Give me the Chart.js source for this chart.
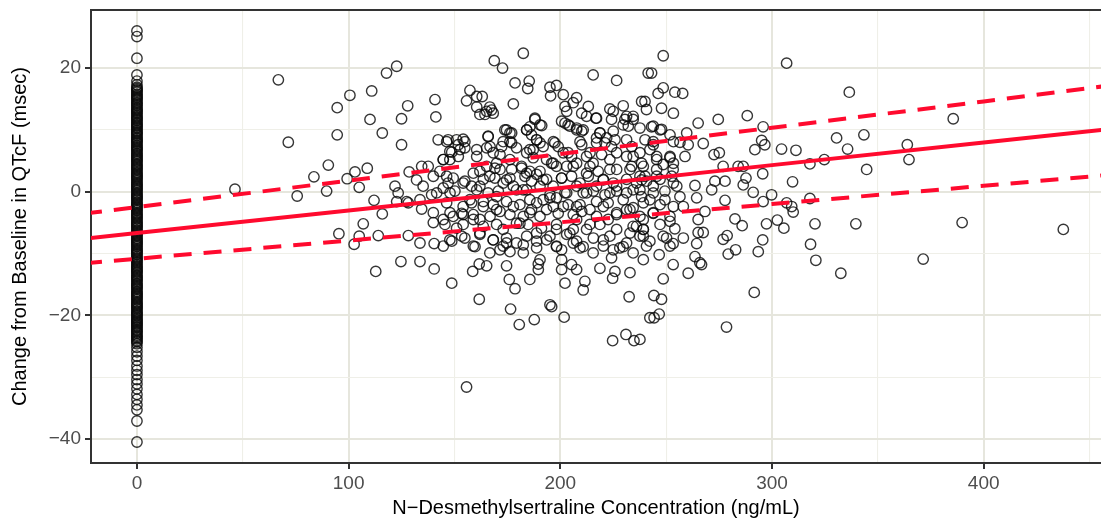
<!DOCTYPE html>
<html>
<head>
<meta charset="utf-8">
<script src="https://cdn.jsdelivr.net/npm/chart.js@4/dist/chart.umd.min.js"></script>
<style>
  body { margin: 0; background: #fff; overflow: hidden; }
  canvas { display: block; }
</style>
</head>
<body>
<canvas id="myChart" width="1101" height="523"></canvas>
<script>
// ticks
const xTicks = [0, 50, 100, 150, 200, 250, 300, 350, 400, 450];
const xLabels = [0, 100, 200, 300, 400];
const yTicks = [-40, -30, -20, -10, 0, 10, 20];
const yLabels = [-40, -20, 0, 20];

// placebo / below-LLOQ group, all at concentration 0
const zeroQtc = [
  26, 25.1, 21.6, 18.9, 17.9, 17.3, 16.9, 16.5, 16.1, 15.6, 15.2, 14.8, 14.3, 13.9, 13.4,
  13.0, 12.6, 12.1, 11.7, 11.2, 10.8, 10.4, 9.9, 9.5, 9.1, 8.6, 8.2, 7.8, 7.3, 6.9,
  6.5, 6.0, 5.6, 5.2, 4.8, 4.3, 3.9, 3.5, 3.0, 2.6, 2.2, 1.8, 1.3, 0.9, 0.5,
  0.1, -0.4, -0.8, -1.2, -1.7, -2.1, -2.5, -2.9, -3.4, -3.8, -4.2, -4.7, -5.1, -5.5, -5.9,
  -6.4, -6.8, -7.2, -7.7, -8.1, -8.5, -8.9, -9.4, -9.8, -10.2, -10.7, -11.1, -11.5, -12.0, -12.4,
  -12.8, -13.2, -13.7, -14.1, -14.5, -15.0, -15.4, -15.8, -16.3, -16.7, -17.1, -17.5, -18.0, -18.4, -18.8,
  -19.3, -19.7, -20.1, -20.6, -21.0, -21.4, -21.8, -22.3, -22.7, -23.2, -23.6, -24.1, -24.6, -25.2, -25.9,
  -26.6, -27.3, -28.2, -28.9, -29.6, -30.4, -31.1, -31.9, -32.8, -33.6, -34.5, -35.3, -37.1, -40.5
];
const zeroQtcMore = [
  16.7, 16.3, 15.8, 15.4, 15.0, 14.5, 14.1, 13.6, 13.2, 12.8, 12.3, 11.9, 11.5, 11.0, 10.6,
  10.2, 9.7, 9.3, 8.8, 8.4, 8.0, 7.5, 7.1, 6.7, 6.2, 5.8, 5.4, 5.0, 4.5, 4.1,
  3.7, 3.2, 2.8, 2.4, 2.0, 1.5, 1.1, 0.7, 0.3, -0.2, -0.6, -1.0, -1.4, -1.9, -2.3,
  -2.7, -3.1, -3.6, -4.0, -4.4, -4.9, -5.3, -5.7, -6.2, -6.6, -7.0, -7.5, -7.9, -8.3, -8.7,
  -9.2, -9.6, -10.0, -10.5, -10.9, -11.3, -11.8, -12.2, -12.6, -13.0, -13.5, -13.9, -14.3, -14.8, -15.2,
  -15.6, -16.1, -16.5, -16.9, -17.3, -17.8, -18.2, -18.6, -19.0, -19.5, -19.9, -20.4, -20.8, -21.2, -21.6,
  -22.0, -22.5, -22.9, -23.4, -23.8, -24.3
];

// concentration (ng/mL) and matching QTcF change (msec)
const conc = [
  66.8, 71.5, 46.3, 75.7, 83.6, 90.4, 89.6, 94.6, 94.6, 100.6,
  110.9, 117.9, 122.7, 110.1, 115.9, 125, 127.9, 125, 140.8, 141.2,
  142.3, 103, 108.8, 99.3, 105, 112, 121.9, 123.4, 128.6, 132.1,
  134.5, 137.6, 140, 135.2, 127.4, 133.7, 139.2, 122.7, 115.9, 106.9,
  95.4, 105, 102.6, 114, 128.2, 133.7, 140.4, 124.7, 133.7, 140.4,
  112.8, 134.5, 140, 140, 128.2, 155.7,
  182.5, 168.8, 172.7, 215.5, 226.6, 241.5, 178.6, 185.3, 184.6, 157.3,
  155.7, 160.5, 163.1, 160.5, 166.7, 167.5, 164.4, 177.8, 195.1, 198.2,
  195.4, 201.4, 202.2, 207.7, 206.1, 213.2, 210.1, 216.8, 223.4, 229.7,
  224.2, 230.5, 234.4, 238.4, 232.1, 188, 185.6, 191.2, 184.1, 173.8,
  176.2, 202.2, 204.5, 207.7, 210.1, 218.7, 147, 154.1, 151.8, 165.9,
  165.2, 172.3, 177, 144.7, 148.7, 143.1, 147, 154.9, 160.5, 168.3,
  169.9, 176.2, 185.6, 187.2, 188.8, 193.5, 197.4, 196.6, 184.1, 181.7,
  190.4, 200.6, 203.7, 206.1, 210.1, 214, 217.1, 221.1, 225.8, 226.6,
  234.4, 238.4, 232.9, 223.4, 215.5, 212.4, 220.3, 226.6, 236, 240,
  154.1, 158.9, 162, 166.7, 171.5, 174.6, 177.8, 182.5, 191.9, 196.6,
  203, 207.7, 212.4, 217.1, 223.4, 231.3, 237.6, 141.6, 147.9, 157.3,
  169.9, 185.6, 195.1,
  154.1, 154.1, 148.7, 159.7, 162, 162, 168.3, 166.7, 171.5, 173,
  174.6, 179.3, 182.5, 180.9, 185.6, 188.8, 188.8, 193.5, 198.2, 200.6,
  206.1, 210.8, 215.5, 220.3, 225, 224.2, 229.7, 234.4, 239.2, 236,
  232.9, 226.6, 218.7, 212.4, 207.7, 204.5, 198.2, 193.5, 201.4, 207.7,
  214, 220.3, 226.6, 232.9, 239.2, 177.8, 169.9, 163.6, 158.9, 147.9,
  144.7, 153.4, 176.2, 190.4, 148.7, 161.7, 158.6, 161.7, 165.2, 174.6,
  175.9, 178.6, 176.5, 180.6, 187.7, 185.6, 189.6, 189.6, 195.1, 195.9,
  201.8, 202.2, 200.6, 200.6, 207.7, 205.3, 211.6, 210.8, 218.7, 224.7,
  225.8, 232.9, 232.5, 239.2, 224.7, 231, 234.8, 242.3,
  248.6, 243.1, 306.9, 336.5, 248.6, 246.2, 254.1, 257.8, 240, 247.8,
  243.1, 247.8, 265.1, 274.6, 288.3, 295.8, 259.7, 240, 243.9, 256.5,
  260.4, 267.5, 272.6, 275.1, 291.9, 295.1, 296.6, 304.5, 311.3, 330.5,
  335.7, 245.5, 251.8, 258.9, 248.6, 253.3, 276.9, 284, 286.4, 295.6,
  287.7, 309.7, 317.9, 324.7, 273, 277.8, 263.6, 271.5, 286.4, 291.1,
  277.8, 299.8, 295.8, 306.9, 317.9, 238.4, 243.9, 255, 256.5, 264.4,
  249.4, 242.3, 252.6, 245.5,
  309.3, 310, 320.3, 339.6, 318.2, 320.7, 332.5, 297.4, 302.5, 305.6,
  282.5, 285.9, 295.6, 293.5, 276.9, 278.8, 282.8, 279.3, 291.6, 278.5,
  265.1, 267.5, 264.4, 263.6, 265.9, 266.7, 260.4, 253.3, 258.1, 253.3,
  254.1, 248.6, 246.7, 248.6, 244.2, 247.8, 246.7, 244.3, 237.6, 265.1,
  243.9, 251.8, 239.2, 258.1, 268.3, 385.6, 343.4, 363.9, 364.7, 344.7,
  371.4, 389.8, 437.6
];
const qtc = [
  18.1, 8.0, 0.4, -0.7, 2.4, 4.3, 0.1, 13.6, 9.2, 15.6,
  16.3, 19.2, 20.3, 11.7, 9.5, 11.8, 13.9, 7.6, 14.9, 12.1,
  8.4, 3.2, 3.8, 2.1, 0.7, -1.4, 0.9, -0.2, 3.2, 1.9,
  4.1, 4.1, 2.5, 0.9, -1.6, -1.3, -0.5, -1.6, -3.6, -5.2,
  -6.8, -7.2, -8.5, -7.1, -7.1, -8.3, -8.4, -11.3, -11.3, -12.5,
  -12.9, -2.8, -3.4, -5.0, -1.8, -31.6,
  22.4, 21.2, 20.0, 18.9, 18.0, 19.2, 17.6, 17.9, 16.7, 16.4,
  14.7, 15.4, 15.4, 13.7, 13.7, 13.2, 12.5, 14.2, 16.9, 17.2,
  15.5, 15.7, 13.8, 15.2, 14.4, 13.8, 12.7, 11.9, 13.4, 13.9,
  11.7, 11.7, 12.2, 14.6, 10.6, 11.9, 10.5, 10.7, 10.0, 10.0,
  9.5, 11.1, 10.6, 10.0, 9.8, 9.5, 8.4, 8.5, 7.6, 8.9,
  7.1, 7.3, 7.9, 5.2, 6.4, 3.3, 1.4, 7.1, 5.7, 6.3,
  4.6, 5.2, 6.8, 5.5, 8.4, 5.2, 7.9, 4.6, 3.0, 3.8,
  3.3, 2.2, 6.3, 4.1, 7.6, 6.3, 8.7, 7.9, 8.4, 6.3,
  5.7, 4.6, 3.6, 3.6, 4.6, 3.0, 1.9, 0.9, 1.4, 2.5,
  1.4, 3.0, 0.9, 2.5, 3.6, 1.9, 0.9, 0.3, 1.9, 0.9,
  -0.2, 0.9, -0.2, 0.9, -0.2, -0.2, 0.3, -0.2, -0.2, -1.3,
  -0.8, -1.3, -1.0,
  -3.7, -5.3, -8.0, -8.9, -6.7, -4.5, -7.8, -9.9, -9.4, -6.1,
  -8.3, -8.3, -9.9, -5.1, -3.4, -6.7, -9.1, -7.8, -8.9, -9.4,
  -8.3, -8.9, -9.9, -7.8, -9.4, -10.7, -8.9, -9.9, -7.2, -5.6,
  -6.7, -6.1, -5.3, -6.1, -4.5, -6.7, -6.1, -2.9, -2.4, -2.4,
  -2.9, -2.4, -3.4, -2.9, -4.5, -2.4, -2.9, -2.4, -3.7, -3.4,
  -4.5, -7.2, -9.7, -11.0, -14.8, -17.4, -12.9, -11.7, -12.0, -12.0,
  -14.2, -15.7, -19.0, -21.5, -20.7, -14.2, -11.7, -12.6, -18.3, -18.6,
  -20.3, -14.8, -12.6, -11.0, -12.6, -11.8, -14.5, -15.9, -12.4, -14.0,
  -12.9, -13.1, -17.0, -11.0, -24.1, -23.1, -24.1, -20.4,
  22.0, 19.2, 20.8, 16.1, 16.8, 15.9, 16.1, 15.9, 14.6, 13.5,
  10.5, 10.1, 11.1, 11.7, 12.3, 10.5, 9.5, 8.4, 7.6, 8.0,
  7.6, 7.8, 6.0, 6.3, 6.8, 8.3, 7.6, 6.9, 6.7, 8.7,
  6.9, 5.7, 5.5, 5.7, 4.4, 3.6, 4.1, 4.1, 4.1, 2.9,
  2.2, 1.6, 4.5, 5.2, 1.7, 1.7, 1.0, 0.3, 1.1, -0.1,
  -1.4, -0.5, -1.6, -1.8, -1.1, 1.9, 0.9, 0.9, -0.8, -1.0,
  -1.3, -1.3, 2.5, 2.5,
  -2.4, -3.3, -5.2, -5.2, -8.5, -11.1, -13.2, -5.2, -4.6, -5.9,
  -4.4, -5.5, -7.8, -9.7, -7.7, -7.1, -9.4, -10.1, -16.3, -21.9,
  -6.6, -6.6, -8.4, -10.5, -11.5, -11.8, -13.2, -11.8, -7.5, -8.4,
  -6.0, -7.2, -10.2, -14.1, -16.8, -17.4, -19.8, -20.4, -23.9, -4.5,
  -3.4, -4.8, -6.1, -2.4, -3.2, 11.8, 9.2, 7.6, 5.2, 3.6,
  -10.9, -5.0, -6.1
];

const concBand = [
  165.2, 168.3, 162.0, 203.0, 212.4, 217.1, 225.0, 231.3, 234.4, 240.7, 253.4,
  188.0, 190.4, 174.6, 177.0, 184.1, 186.4, 200.6, 203.7, 207.7, 210.8, 218.7, 225.0, 229.7, 237.6, 243.9, 247.1, 251.8,
  165.9, 146.3, 151.0, 154.9, 173.0, 176.2, 188.8, 190.4, 196.7, 199.0, 209.3, 217.1, 221.9, 224.2, 231.3, 233.7, 243.9, 253.4,
  147.8, 152.6, 160.5, 166.8, 171.5, 179.3, 184.1, 187.2, 191.9, 201.4, 205.3, 212.4, 219.5, 223.4, 231.3, 237.6, 242.3, 245.5, 251.8,
  144.7, 147.8, 151.8, 162.0, 165.2, 169.1, 177.0, 181.7, 185.6, 188.8, 195.9, 198.2, 203.0, 207.7, 214.0, 217.9, 226.6, 233.7, 239.2, 245.5, 253.4,
  146.3, 149.4, 154.9, 158.1, 163.6, 169.1, 173.0, 176.2, 183.3, 186.4, 190.4, 193.5, 200.6, 205.3, 209.3, 213.2, 220.3, 225.0, 231.3, 237.6, 240.7, 247.1, 253.4,
  144.7, 150.2, 160.5, 165.9, 170.7, 179.3, 184.1, 195.1, 198.2, 202.2, 210.8, 215.6, 221.1, 226.6, 234.4, 238.4, 243.9, 249.4,
  146.3, 154.1, 158.1, 163.6, 168.3, 174.6, 180.9, 188.8, 191.9, 196.7, 203.7, 209.3, 217.1, 222.6, 229.7, 234.4, 239.2, 247.1, 253.4,
  149.4, 153.4, 158.9, 166.8, 171.5, 176.2, 182.5, 186.4, 190.4, 199.0, 206.1, 210.1, 217.1, 226.6, 231.3, 237.6, 243.9, 251.8,
  145.5, 151.0, 163.6, 169.9, 179.3, 184.8, 191.1, 198.2, 206.1, 214.0, 222.6, 234.4, 239.2, 247.1,
  147.8, 154.9, 162.0, 168.3, 174.6, 184.1, 188.8, 195.1, 203.0, 207.7, 215.6, 223.4, 231.3, 237.6, 242.3, 250.2,
  144.7, 158.9, 173.0, 182.5, 198.2, 209.3, 220.3, 228.1, 240.7, 251.8
];
const qtcBand = [
  13.0, 12.7, 12.5, 13.0, 12.2, 11.9, 13.0, 12.2, 11.7, 13.3, 12.7,
  11.7, 10.8, 10.0, 9.5, 10.0, 9.2, 11.4, 10.8, 10.3, 10.0, 9.5, 9.8, 10.8, 10.3, 10.6, 10.0, 9.2,
  9.0, 8.1, 8.4, 8.1, 8.1, 8.1, 8.4, 7.9, 8.1, 7.3, 8.1, 7.9, 8.7, 7.3, 8.4, 7.3, 8.1, 8.1,
  6.5, 6.8, 6.8, 7.3, 6.0, 7.1, 6.3, 6.8, 7.3, 6.3, 5.7, 5.7, 6.0, 5.2, 5.7, 6.3, 6.8, 5.2, 5.7,
  5.2, 5.2, 5.7, 3.3, 4.1, 3.8, 3.6, 4.1, 3.3, 2.8, 4.6, 4.1, 4.1, 4.6, 4.1, 3.3, 3.6, 4.1, 4.1, 3.6, 4.6,
  2.5, 2.2, 1.7, 0.9, 2.0, 2.2, 1.4, 2.2, 2.5, 1.7, 0.9, 2.0, 2.2, 2.5, 1.4, 2.5, 2.0, 1.4, 2.0, 2.5, 1.7, 2.0, 1.4,
  0.6, 0.1, 0.3, -0.2, 0.1, 0.3, 0.3, -0.5, -1.0, -0.2, -0.2, 0.1, -0.5, 0.1, 0.3, -0.8, -0.2, 0.1,
  -1.8, -2.4, -1.8, -1.6, -2.1, -1.6, -2.1, -1.8, -1.3, -2.4, -2.1, -2.1, -1.6, -1.8, -1.3, -2.6, -1.8, -2.1, -2.4,
  -4.0, -3.5, -4.5, -4.0, -3.2, -3.7, -4.0, -2.9, -4.0, -3.5, -3.7, -3.2, -4.0, -3.7, -2.9, -4.0, -3.5, -4.0,
  -5.3, -5.9, -5.6, -5.3, -5.1, -5.3, -5.9, -5.3, -6.1, -5.3, -4.5, -5.6, -6.1, -5.3,
  -7.8, -7.5, -6.9, -7.8, -7.5, -7.2, -8.0, -7.2, -6.9, -8.0, -7.5, -7.2, -8.3, -7.2, -8.0, -7.5,
  -8.8, -8.8, -8.8, -8.6, -8.8, -9.1, -8.8, -9.1, -8.8, -8.8
];

// regression line and its band, read at a few concentrations
const fitConc = [-25, 0, 100, 200, 300, 400, 460];
const fitMid = [-7.6, -6.7, -3.05, 0.6, 4.3, 7.95, 10.15];
const fitUpper = [-3.55, -2.5, 1.8, 6.1, 10.35, 14.6, 17.2];
const fitLower = [-11.6, -10.85, -7.9, -4.95, -2.0, 0.95, 2.75];

const RED = '#ff0a2e';
const AXIS = '#333333';

Chart.defaults.font.family = "'Liberation Sans', Arial, sans-serif";

const fmt = (v) => (v < 0 ? '\u2212' + Math.abs(v) : String(v));

// top frame line of the panel
const topBorder = {
  id: 'topBorder',
  afterDraw(chart) {
    const { ctx, chartArea } = chart;
    ctx.save();
    ctx.strokeStyle = AXIS;
    ctx.lineWidth = 2;
    ctx.beginPath();
    ctx.moveTo(chartArea.left - 1, chartArea.top);
    ctx.lineTo(chartArea.right, chartArea.top);
    ctx.stroke();
    ctx.restore();
  }
};

const pointStyle = {
  showLine: false,
  pointRadius: 5.2,
  pointHoverRadius: 5.2,
  pointBorderWidth: 1.4,
  pointBorderColor: 'rgba(10,10,10,0.82)',
  pointBackgroundColor: 'rgba(0,0,0,0)',
  order: 2
};

const lineStyle = {
  showLine: true,
  pointRadius: 0,
  borderColor: RED,
  borderWidth: 4,
  clip: 0,
  order: 1
};

function gridOpts(labels) {
  return {
    color: (c) => (c.tick && labels.includes(c.tick.value) ? '#e6e6dd' : '#efefe8'),
    lineWidth: (c) => (c.tick && labels.includes(c.tick.value) ? 2 : 1.1),
    tickColor: (c) => (c.tick && labels.includes(c.tick.value) ? AXIS : 'rgba(0,0,0,0)'),
    tickLength: 6,
    tickWidth: 2
  };
}

const toPoints = (xs, ys) => xs.map((x, i) => ({ x: x, y: ys[i] }));

const ctx = document.getElementById('myChart').getContext('2d');

const myChart = new Chart(ctx, {
  type: 'scatter',
  data: {
    datasets: [
      Object.assign({ label: 'fit', data: toPoints(fitConc, fitMid) }, lineStyle),
      Object.assign({ label: 'upper', borderDash: [18, 12], data: toPoints(fitConc, fitUpper) }, lineStyle),
      Object.assign({ label: 'lower', borderDash: [18, 12], data: toPoints(fitConc, fitLower) }, lineStyle),
      Object.assign({ label: 'zero', data: zeroQtc.concat(zeroQtcMore).map((y) => ({ x: 0, y: y })) }, pointStyle),
      Object.assign({ label: 'conc', data: toPoints(conc, qtc).concat(toPoints(concBand, qtcBand)) }, pointStyle)
    ]
  },
  options: {
    responsive: false,
    animation: false,
    devicePixelRatio: 1,
    layout: { autoPadding: false, padding: { top: 10, right: 0, bottom: 0, left: 0 } },
    plugins: {
      legend: { display: false },
      tooltip: { enabled: false }
    },
    scales: {
      x: {
        type: 'linear',
        min: -21.7,
        max: 455.4,
        afterBuildTicks: (s) => { s.ticks = xTicks.map((v) => ({ value: v })); },
        afterFit: (s) => { s.height = 60; s.paddingLeft = 0; s.paddingRight = 0; },
        grid: gridOpts(xLabels),
        border: { color: AXIS, width: 2 },
        ticks: {
          color: '#4d4d4d',
          font: { size: 19 },
          padding: 3,
          maxRotation: 0,
          autoSkip: false,
          callback: (v) => (xLabels.includes(v) ? fmt(v) : '')
        },
        title: {
          display: true,
          text: 'N\u2212Desmethylsertraline Concentration (ng/mL)',
          color: '#000',
          font: { size: 20 },
          padding: { top: 0, bottom: 3 }
        }
      },
      y: {
        type: 'linear',
        min: -43.9,
        max: 29.4,
        afterBuildTicks: (s) => { s.ticks = yTicks.map((v) => ({ value: v })); },
        afterFit: (s) => { s.width = 91; s.paddingTop = 0; s.paddingBottom = 0; },
        grid: gridOpts(yLabels),
        border: { color: AXIS, width: 2 },
        ticks: {
          color: '#4d4d4d',
          font: { size: 19 },
          padding: 4,
          autoSkip: false,
          callback: (v) => (yLabels.includes(v) ? fmt(v) : '')
        },
        title: {
          display: true,
          text: 'Change from Baseline in QTcF (msec)',
          color: '#000',
          font: { size: 20 },
          padding: { top: 8, bottom: 0 }
        }
      }
    }
  },
  plugins: [topBorder]
});
</script>
</body>
</html>
